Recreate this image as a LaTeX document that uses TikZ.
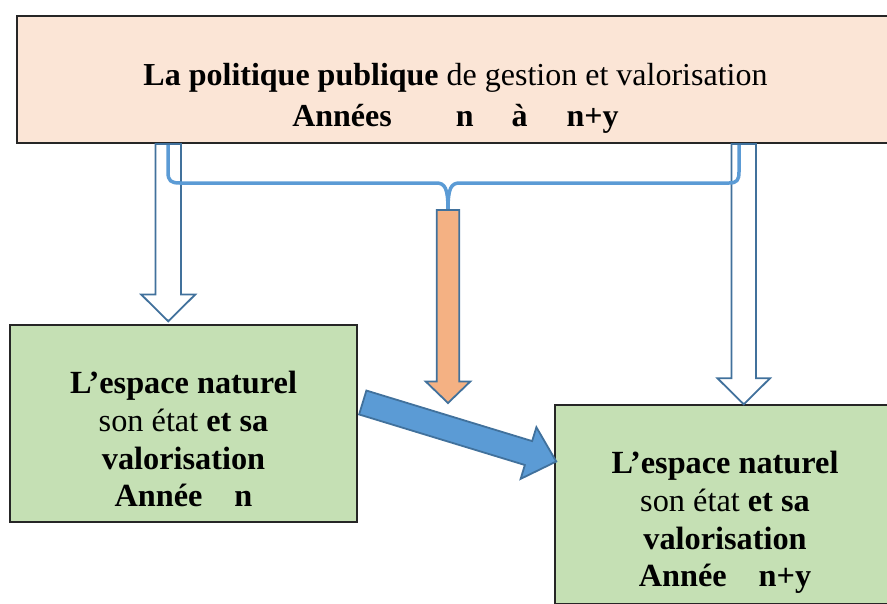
\documentclass[tikz,border=0pt]{standalone}
\usepackage{fontspec}
\setmainfont{Liberation Serif}
\usetikzlibrary{calc}
\definecolor{peach}{HTML}{FBE5D6}
\definecolor{leaf}{HTML}{C5E0B4}
\definecolor{salmon}{HTML}{F4B183}
\definecolor{sky}{HTML}{5B9BD5}
\definecolor{steel}{HTML}{41719C}
% block arrow: style, tail, tip, half shaft, half head, head length
\newcommand{\blockarrow}[6]{%
  \coordinate (ba) at ($(#3)!#6!(#2)$);
  \draw[#1] ($(#2)!#4!90:(#3)$) -- ($(ba)!#4!90:(#3)$) -- ($(ba)!#5!90:(#3)$) -- (#3)
    -- ($(ba)!#5!-90:(#3)$) -- ($(ba)!#4!-90:(#3)$) -- ($(#2)!#4!-90:(#3)$) -- cycle;
}

\begin{document}
\begin{tikzpicture}[x=1pt,y=-1pt,
  gbox/.style={draw=black!85,line width=1.5pt,fill=leaf,inner sep=0pt},
  txt/.style={align=center,inner sep=0pt,font=\fontsize{32.3}{37.7}\selectfont},
  hollow/.style={draw=steel,line width=1.8pt,fill=white,line join=miter},
  brace/.style={draw=sky,line width=3.5pt,line join=round}]
\useasboundingbox (0,0) rectangle (887,603);

\node[draw=black!85,line width=1.8pt,fill=peach,minimum width=880pt,minimum height=127pt,inner sep=0pt] (pol) at (457,79.5) {};
\node[gbox,minimum width=347pt,minimum height=197pt] (lb) at (183.5,423.5) {};
\node[gbox,minimum width=345pt,minimum height=199pt] (rb) at (727.5,504.5) {};

\node[txt,font=\fontsize{32}{41}\selectfont,anchor=north] (poltxt) at ([xshift=-1.5pt,yshift=-48pt]pol.north)
  {\textbf{La politique publique} de gestion et valorisation\\\textbf{Années\hspace{64pt}n\hspace{38pt}à\hspace{39pt}n+y}};
\node[txt,anchor=north] (lbt) at ([yshift=-47pt]lb.north)
  {\textbf{L’espace naturel}\\son état \textbf{et sa}\\\textbf{valorisation}\\\textbf{Année\hspace{32pt}n}};
\node[txt,anchor=north] (rbt) at ([xshift=-2.5pt,yshift=-47pt]rb.north)
  {\textbf{L’espace naturel}\\son état \textbf{et sa}\\\textbf{valorisation}\\\textbf{Année\hspace{32pt}n+y}};

% hollow arrows from the policy box
\coordinate (l2) at ([xshift=159pt,yshift=3pt]lb.north west);
\coordinate (l1) at (pol.south -| l2);
\coordinate (r2) at ([xshift=189.5pt]rb.north west);
\coordinate (r1) at (pol.south -| r2);
\blockarrow{hollow}{l1}{l2}{12.8pt}{27pt}{26.7pt}
\blockarrow{hollow}{r1}{r2}{12.2pt}{26.3pt}{26pt}

% brace
\coordinate (o1) at (448,210);
\draw[brace] (168,145) -- (168,172) .. controls (168,181) and (171,183) .. (180,183) -- (436,183)
  .. controls (445,183) and (448,188) .. (o1) .. controls (448,188) and (451,183) .. (460,183)
  -- (729,183) .. controls (737,183) and (739,180) .. (739,172) -- (739,145);

\coordinate (o2) at (448,403);
\blockarrow{hollow,fill=salmon}{o1}{o2}{11.3pt}{22.3pt}{21.5pt}

% from year n to year n+y
\coordinate (b1) at ([xshift=5pt,yshift=21pt]lb.east);
\coordinate (b2) at ([xshift=2pt,yshift=43pt]rb.west);
\blockarrow{hollow,fill=sky}{b1}{b2}{12.5pt}{27pt}{29pt}
\end{tikzpicture}
\end{document}
